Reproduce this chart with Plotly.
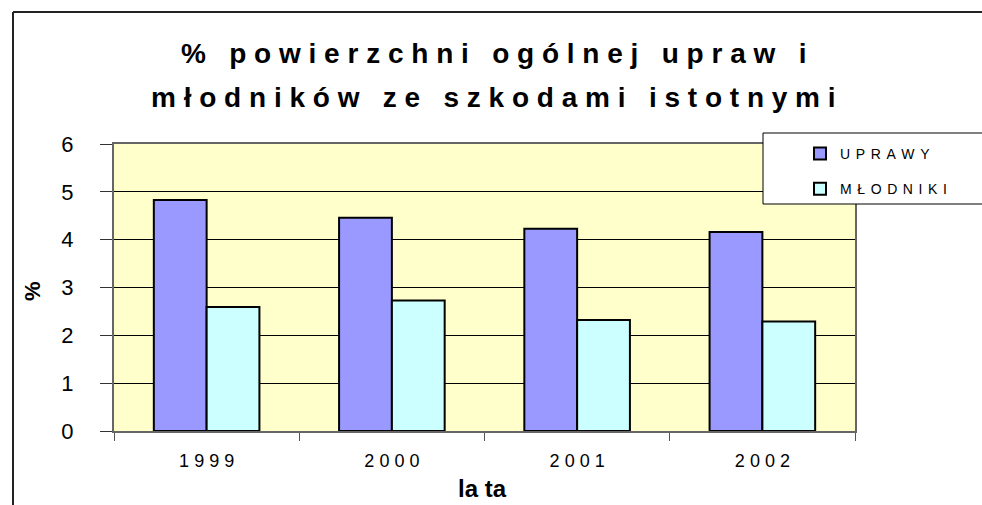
import plotly.graph_objects as go

# Source data
years = ["1999", "2000", "2001", "2002"]
uprawy = [4.83, 4.46, 4.23, 4.16]
mlodniki = [2.59, 2.73, 2.32, 2.29]
series_names = ["UPRAWY", "MŁODNIKI"]
title_lines = ["% powierzchni ogólnej upraw i", "młodników ze szkodami istotnymi"]
y_title = "%"
x_title = "la ta"
y_ticks = [0, 1, 2, 3, 4, 5, 6]

FONT = "Liberation Sans, Arial, sans-serif"


def spaced(text, gap=" ", word_gap="\u00a0\u00a0\u00a0"):
    """Letter-spaced text: letters separated by `gap`, words by `word_gap`."""
    return word_gap.join(gap.join(word) for word in text.split(" "))


# Pixel geometry of the plotting area inside the 982x505 canvas
W, H = 982, 505
L, R, T, B = 114, 127, 144, 74
PW, PH = W - L - R, H - T - B


def px_x(px):
    return (px - L) / PW


def px_y(py):
    return (H - B - py) / PH


legend_gap = "\u2009\u2009"

fig = go.Figure()
fig.add_trace(go.Bar(
    x=years, y=uprawy, name=spaced(series_names[0], gap=legend_gap), legendgroup="a",
    marker=dict(color="#9999FF", line=dict(color="#000000", width=2)),
))
fig.add_trace(go.Bar(
    x=years, y=mlodniki, name=spaced(series_names[1], gap=legend_gap), legendgroup="b",
    marker=dict(color="#CCFFFF", line=dict(color="#000000", width=2)),
))

shapes = [
    # legend frame
    dict(type="rect", xref="paper", yref="paper", layer="above",
         x0=px_x(763), x1=px_x(1000), y0=px_y(204), y1=px_y(133),
         fillcolor="white", line=dict(color="#000000", width=1)),
    # outer chart frame (top and left edges)
    dict(type="line", xref="paper", yref="paper",
         x0=px_x(13), x1=px_x(1000), y0=px_y(12), y1=px_y(12),
         line=dict(color="#222222", width=2)),
    dict(type="line", xref="paper", yref="paper",
         x0=px_x(13), x1=px_x(13), y0=px_y(12), y1=px_y(520),
         line=dict(color="#222222", width=2)),
]

title_font = dict(family=FONT, size=28, color="black", weight="bold")
axis_title_font_y = dict(family=FONT, size=22, color="black", weight="bold")
axis_title_font_x = dict(family=FONT, size=24, color="black", weight="bold")
annotations = [
    dict(text=spaced(title_lines[0]), xref="paper", yref="paper",
         x=px_x(493), y=px_y(54), xanchor="center", yanchor="middle",
         showarrow=False, font=title_font),
    dict(text=spaced(title_lines[1]), xref="paper", yref="paper",
         x=px_x(494), y=px_y(97), xanchor="center", yanchor="middle",
         showarrow=False, font=title_font),
    # rotated y-axis title
    dict(text=y_title, xref="paper", yref="paper",
         x=px_x(32), y=px_y(291), xanchor="center", yanchor="middle",
         textangle=-90, showarrow=False, font=axis_title_font_y),
    # x-axis title
    dict(text=x_title, xref="paper", yref="paper",
         x=px_x(482), y=px_y(488), xanchor="center", yanchor="middle",
         showarrow=False, font=axis_title_font_x),
]

fig.update_layout(
    width=W, height=H,
    margin=dict(l=L, r=R, t=T, b=B, pad=0, autoexpand=False),
    paper_bgcolor="white",
    plot_bgcolor="#FFFFCC",
    barmode="group", bargap=0.43, bargroupgap=0,
    font=dict(family=FONT, color="black"),
    shapes=shapes,
    annotations=annotations,
    showlegend=True,
    legend=dict(
        x=px_x(800), y=px_y(138), xanchor="left", yanchor="top",
        bgcolor="rgba(0,0,0,0)", borderwidth=0,
        font=dict(family=FONT, size=14, color="black"),
        tracegroupgap=14, traceorder="grouped",
    ),
)

fig.update_yaxes(
    range=[0, 6], tickvals=y_ticks, automargin=False,
    showgrid=True, gridcolor="#000000", gridwidth=1,
    ticks="outside", ticklen=12, tickcolor="#333333", tickwidth=1,
    ticklabelstandoff=22,
    showline=True, linecolor="#666666", linewidth=2, mirror=True,
    tickfont=dict(family=FONT, size=22, color="black"),
    zeroline=False, fixedrange=True,
)
fig.update_xaxes(
    type="category", tickvals=years, ticktext=[spaced(y) for y in years],
    automargin=False,
    tickson="boundaries", ticks="outside", ticklen=8, tickcolor="#555555",
    showline=True, linecolor="#666666", linewidth=2, mirror=True,
    tickfont=dict(family=FONT, size=18, color="black"),
    ticklabelstandoff=12,
    showgrid=False, fixedrange=True,
)

fig.write_html("out.html", config={"displayModeBar": False})
